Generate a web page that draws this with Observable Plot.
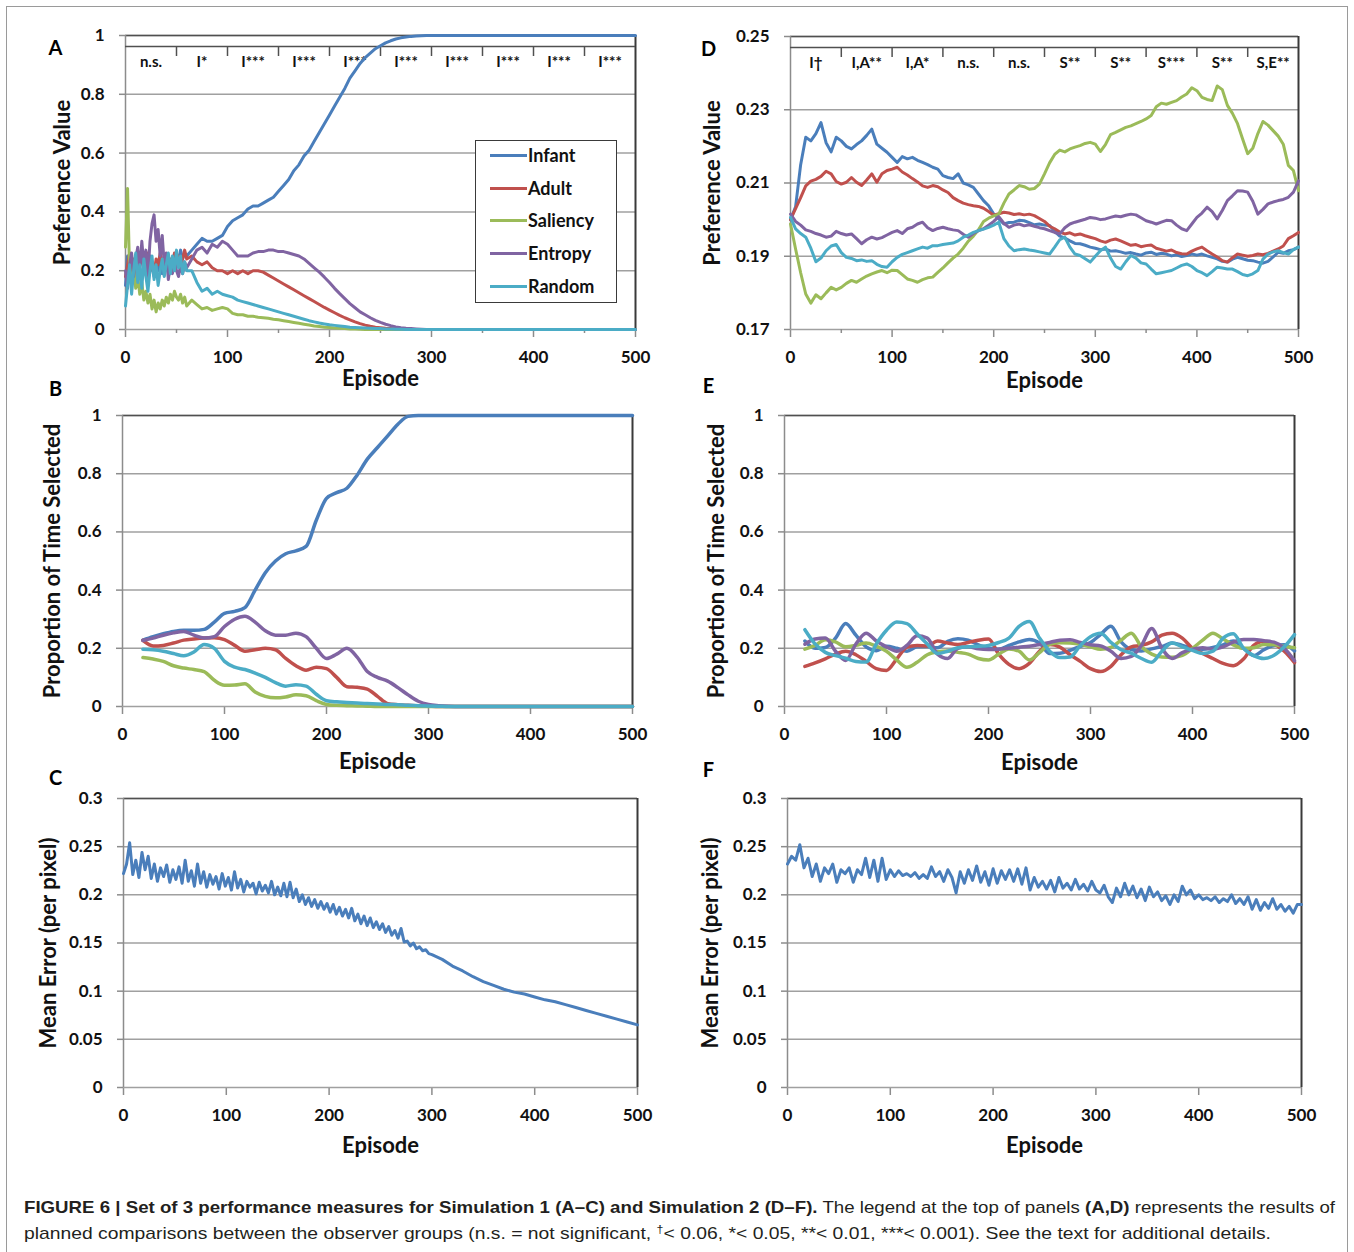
<!DOCTYPE html>
<html><head><meta charset="utf-8">
<script src="https://cdn.jsdelivr.net/npm/d3@7"></script>
<script src="https://cdn.jsdelivr.net/npm/@observablehq/plot@0.6"></script>
<style>
html,body{margin:0;padding:0;background:#fff;}
#fig{position:relative;width:1354px;height:1252px;overflow:hidden;font-family:Lato,"Open Sans",sans-serif;background:#fff;}
.panel{position:absolute;}
.panel svg{overflow:visible;}
g[aria-label="x-axis tick"], g[aria-label="y-axis tick"]{stroke:#8c8c8c;stroke-width:1.5px;}
g[aria-label="x-axis"] line, g[aria-label="y-axis"] line{stroke:#8c8c8c;stroke-width:1.5px;}
#frame{position:absolute;left:6px;top:6px;width:1340px;height:1270px;border:1px solid #9a9a9a;}
.legend{position:absolute;background:#fff;border:1.5px solid #3a3a3a;box-sizing:border-box;}
.legend .sw{position:absolute;height:3px;}
.legend .lb{position:absolute;font-family:Lato,"Open Sans",sans-serif;font-weight:bold;font-size:18px;line-height:20px;color:#111;}
</style></head>
<body>
<div id="fig"><div id="frame"></div></div>
<script>
// ---------- series ----------
const names = ["Infant", "Adult", "Saliency", "Entropy", "Random"];
const colors = ["#4a7ebb", "#c0504d", "#9bbb59", "#8064a2", "#4bacc6"];

// Panel A (Simulation 1, preference value)
const epA = d3.range(0, 61, 2).concat(d3.range(65, 301, 5), [500]);
const aInfant = [0.15,0.25,0.18,0.22,0.2,0.24,0.17,0.22,0.26,0.2,0.23,0.19,0.25,0.21,0.18,0.22,0.2,0.24,0.19,0.23,0.21,0.25,0.2,0.24,0.22,0.26,0.23,0.27,0.24,0.26,0.25,
  0.27,0.29,0.31,0.3,0.3,0.31,0.32,0.35,
  0.37,0.38,0.39,0.41,0.42,0.42,0.43,0.44,
  0.45,0.47,0.49,0.51,0.54,0.56,0.59,0.61,
  0.64,0.67,0.7,0.73,0.76,0.79,0.82,0.855,
  0.88,0.905,0.925,0.94,0.955,0.965,0.975,0.982,
  0.988,0.992,0.995,0.997,0.998,0.999,1,1,
  1];
const aAdult = [0.18,0.22,0.26,0.2,0.24,0.19,0.25,0.22,0.27,0.21,0.24,0.26,0.2,0.23,0.19,0.24,0.22,0.26,0.21,0.25,0.23,0.2,0.24,0.22,0.26,0.23,0.25,0.22,0.24,0.27,0.24,
  0.25,0.23,0.22,0.23,0.21,0.2,0.2,0.19,
  0.2,0.19,0.2,0.19,0.2,0.2,0.195,0.185,
  0.175,0.165,0.155,0.145,0.135,0.125,0.115,0.105,
  0.095,0.085,0.075,0.066,0.057,0.048,0.04,0.033,
  0.026,0.02,0.015,0.011,0.008,0.006,0.004,0.003,
  0.002,0.001,0,0,0,0,0,0,
  0];
const aSaliency = [0.28,0.48,0.2,0.16,0.22,0.14,0.18,0.12,0.16,0.1,0.13,0.09,0.12,0.07,0.1,0.06,0.09,0.07,0.1,0.08,0.11,0.09,0.12,0.1,0.13,0.11,0.1,0.12,0.09,0.11,0.08,
  0.1,0.085,0.07,0.075,0.065,0.07,0.075,0.07,
  0.055,0.05,0.05,0.045,0.045,0.042,0.04,0.038,
  0.035,0.033,0.03,0.027,0.024,0.021,0.018,0.015,
  0.012,0.01,0.008,0.007,0.005,0.004,0.003,0.002,
  0.002,0.001,0,0,0,0,0,0,
  0,0,0,0,0,0,0,0,
  0];
const aEntropy = [0.2,0.14,0.22,0.26,0.18,0.24,0.28,0.2,0.3,0.22,0.27,0.18,0.3,0.36,0.39,0.3,0.34,0.25,0.32,0.22,0.26,0.17,0.22,0.19,0.24,0.2,0.18,0.22,0.19,0.23,0.21,
  0.24,0.27,0.28,0.26,0.29,0.28,0.3,0.29,
  0.27,0.25,0.25,0.25,0.26,0.265,0.265,0.27,
  0.27,0.265,0.265,0.26,0.255,0.25,0.24,0.225,
  0.21,0.195,0.178,0.16,0.14,0.122,0.105,0.088,
  0.074,0.06,0.05,0.04,0.031,0.024,0.018,0.013,
  0.009,0.006,0.004,0.003,0.002,0.001,0,0,
  0];
const aRandom = [0.08,0.15,0.22,0.12,0.2,0.26,0.16,0.22,0.14,0.24,0.18,0.13,0.2,0.25,0.17,0.22,0.15,0.2,0.24,0.18,0.22,0.26,0.19,0.25,0.2,0.27,0.21,0.25,0.19,0.23,0.2,
  0.2,0.16,0.13,0.14,0.12,0.13,0.12,0.115,
  0.11,0.1,0.095,0.09,0.085,0.08,0.075,0.07,
  0.065,0.06,0.055,0.05,0.045,0.04,0.035,0.03,
  0.026,0.022,0.019,0.016,0.014,0.012,0.01,0.008,
  0.007,0.006,0.005,0.004,0.003,0.003,0.002,0.002,
  0.001,0.001,0,0,0,0,0,0,
  0];

// Panel B (Simulation 1, proportion of time selected), episodes 20..500 by 10
const epB = d3.range(20, 501, 10);
const bInfant = [0.228,0.24,0.25,0.258,0.262,0.262,0.265,0.29,0.32,0.327,0.34,0.4,0.46,0.5,0.525,0.535,0.55,0.64,0.715,0.735,0.75,0.795,0.85,0.89,0.93,0.97,0.997,
  1,1,1,1,1,1,1,1,1,1,1,1,1,1,1,1,1,1,1,1,1,1];
const bAdult = [0.227,0.208,0.21,0.218,0.228,0.232,0.235,0.236,0.23,0.21,0.19,0.195,0.2,0.195,0.165,0.14,0.125,0.135,0.13,0.1,0.068,0.066,0.06,0.035,0.01,0.006,0.004,0.002,0.001,
  0,0,0,0,0,0,0,0,0,0,0,0,0,0,0,0,0,0,0,0];
const bSaliency = [0.168,0.163,0.155,0.14,0.132,0.127,0.12,0.09,0.073,0.074,0.078,0.05,0.035,0.03,0.033,0.04,0.037,0.02,0.007,0.004,0.003,0.002,0.001,
  0,0,0,0,0,0,0,0,0,0,0,0,0,0,0,0,0,0,0,0,0,0,0,0,0,0];
const bEntropy = [0.227,0.235,0.245,0.253,0.258,0.245,0.235,0.24,0.275,0.3,0.31,0.29,0.26,0.245,0.245,0.252,0.24,0.2,0.165,0.18,0.2,0.17,0.12,0.1,0.087,0.065,0.04,0.018,0.007,0.003,0.001,
  0,0,0,0,0,0,0,0,0,0,0,0,0,0,0,0,0,0];
const bRandom = [0.197,0.195,0.19,0.182,0.174,0.187,0.213,0.2,0.155,0.135,0.127,0.115,0.1,0.082,0.07,0.075,0.07,0.042,0.02,0.016,0.014,0.012,0.01,0.009,0.007,0.006,0.004,0.003,0.002,0.001,
  0,0,0,0,0,0,0,0,0,0,0,0,0,0,0,0,0,0,0];

// Panel C (Simulation 1, mean error)
const epC = d3.range(0, 301, 3).concat(d3.range(310, 501, 10));
const cError = [0.222,0.232,0.254,0.221,0.236,0.218,0.244,0.226,0.240,0.217,
  0.232,0.214,0.228,0.219,0.231,0.213,0.226,0.216,0.229,0.212,
  0.236,0.214,0.225,0.209,0.232,0.212,0.224,0.208,0.221,0.211,
  0.219,0.206,0.222,0.209,0.218,0.205,0.224,0.207,0.216,0.203,
  0.214,0.208,0.212,0.201,0.213,0.204,0.21,0.202,0.214,0.2,
  0.208,0.199,0.212,0.198,0.213,0.197,0.206,0.193,0.2,0.19,
  0.197,0.188,0.195,0.186,0.193,0.185,0.191,0.182,0.19,0.18,
  0.187,0.178,0.185,0.176,0.186,0.173,0.18,0.17,0.178,0.168,
  0.176,0.166,0.172,0.164,0.17,0.161,0.167,0.158,0.163,0.155,
  0.165,0.151,0.152,0.147,0.15,0.144,0.146,0.142,0.143,0.139,
  0.138,
  0.133,0.126,0.121,0.115,0.11,0.106,0.102,0.099,0.097,0.094,
  0.091,0.089,0.086,0.083,0.08,0.077,0.074,0.071,0.068,0.065];

// Panel D (Simulation 2, preference value), episodes 0..500 by 5
const epD = d3.range(0, 501, 5);
const dInfant = [0.2,0.2035,0.215,0.2225,0.2215,0.2235,0.2265,0.221,0.2185,0.2225,
  0.2215,0.22,0.2193,0.2205,0.2215,0.223,0.2247,0.2206,0.2195,0.2184,
  0.217,0.2156,0.2172,0.2166,0.217,0.2162,0.2156,0.215,0.2143,0.2138,
  0.212,0.2115,0.2112,0.2125,0.21,0.2095,0.2088,0.207,0.2052,0.2038,
  0.2015,0.2002,0.1988,0.1992,0.1993,0.1998,0.1997,0.1992,0.1986,0.1988,
  0.1985,0.1984,0.1968,0.1955,0.195,0.1942,0.1935,0.1934,0.193,0.1925,
  0.1922,0.1918,0.192,0.1914,0.1915,0.1912,0.1908,0.191,0.1906,0.1903,
  0.1909,0.1911,0.1905,0.1908,0.1906,0.1901,0.1904,0.1899,0.1902,0.1906,
  0.1903,0.1906,0.1901,0.1897,0.1893,0.1886,0.1884,0.1892,0.1897,0.1893,
  0.1889,0.1888,0.1884,0.1881,0.1886,0.1898,0.1911,0.1908,0.1915,0.1918,
  0.1925];
const dAdult = [0.2,0.203,0.206,0.2092,0.2105,0.211,0.2118,0.2132,0.2125,0.2104,
  0.2097,0.2102,0.2115,0.2102,0.2093,0.2108,0.2125,0.2102,0.2125,0.2134,
  0.2138,0.2143,0.213,0.2122,0.2112,0.2103,0.2092,0.2088,0.2093,0.209,
  0.2081,0.2074,0.206,0.2052,0.2045,0.2041,0.2038,0.2036,0.2031,0.2022,
  0.2012,0.2016,0.202,0.2018,0.2014,0.2016,0.2013,0.2015,0.2011,0.2003,
  0.1995,0.1982,0.1975,0.1966,0.1961,0.1964,0.1958,0.1961,0.1956,0.1952,
  0.1948,0.1942,0.1938,0.1944,0.1947,0.1942,0.1936,0.193,0.1932,0.1926,
  0.1929,0.1931,0.1922,0.1918,0.1914,0.1917,0.191,0.1907,0.1906,0.1914,
  0.192,0.1925,0.1915,0.1906,0.1898,0.1888,0.1884,0.1896,0.1906,0.1903,
  0.19,0.1902,0.1906,0.1904,0.1908,0.1914,0.192,0.1928,0.1948,0.1956,
  0.1965];
const dSaliency = [0.1988,0.192,0.1855,0.1797,0.1772,0.1795,0.1784,0.18,0.1815,0.1808,
  0.1815,0.1826,0.1834,0.1829,0.1838,0.1846,0.1852,0.1857,0.1861,0.1855,
  0.1862,0.1861,0.185,0.1838,0.1834,0.1829,0.1836,0.1841,0.1843,0.1856,
  0.1868,0.1882,0.1895,0.1906,0.1922,0.1941,0.1955,0.1972,0.1995,0.2004,
  0.201,0.2015,0.2045,0.207,0.2081,0.2093,0.209,0.2083,0.2085,0.2097,
  0.2125,0.2155,0.2178,0.219,0.2185,0.2193,0.2198,0.2202,0.2208,0.2211,
  0.2206,0.2186,0.2205,0.2232,0.2238,0.2245,0.2252,0.2256,0.2262,0.2268,
  0.2275,0.2284,0.2308,0.2318,0.2315,0.232,0.2325,0.2335,0.2343,0.236,
  0.2352,0.2334,0.2328,0.2325,0.2365,0.2355,0.2312,0.229,0.2262,0.222,
  0.218,0.2195,0.2235,0.2268,0.2258,0.2243,0.2228,0.2206,0.2148,0.2134,
  0.2079];
const dEntropy = [0.2015,0.1995,0.1985,0.1972,0.1968,0.1962,0.1958,0.1952,0.1955,0.1968,
  0.1962,0.1958,0.1961,0.1948,0.1934,0.1945,0.1952,0.1947,0.1951,0.1958,
  0.1965,0.197,0.1962,0.1975,0.1979,0.1988,0.1993,0.1978,0.197,0.1976,
  0.1979,0.1975,0.1972,0.197,0.196,0.1952,0.1962,0.197,0.1975,0.1985,
  0.1995,0.2008,0.199,0.1979,0.1985,0.1988,0.1983,0.1986,0.1982,0.1978,
  0.1975,0.197,0.1965,0.1961,0.1978,0.1988,0.1993,0.1997,0.2001,0.2006,
  0.2004,0.2,0.2002,0.2006,0.201,0.2008,0.2012,0.2015,0.2013,0.2005,
  0.1997,0.1993,0.1988,0.1993,0.1998,0.1997,0.1985,0.1975,0.197,0.1988,
  0.2006,0.2018,0.2034,0.2022,0.2002,0.2025,0.2052,0.2065,0.2079,0.2078,
  0.2075,0.205,0.2015,0.2028,0.2043,0.2048,0.2052,0.2055,0.2061,0.2075,
  0.2106];
const dRandom = [0.2006,0.1975,0.1962,0.1952,0.1922,0.1885,0.1895,0.1915,0.1928,0.1932,
  0.191,0.1897,0.1894,0.1888,0.189,0.1886,0.1888,0.1878,0.1872,0.187,
  0.1885,0.1897,0.1905,0.191,0.1915,0.192,0.1925,0.1922,0.1929,0.1929,
  0.1932,0.1934,0.1936,0.1942,0.1952,0.1958,0.1965,0.197,0.1974,0.1979,
  0.1985,0.1993,0.1948,0.1928,0.1915,0.1918,0.192,0.1917,0.1915,0.1912,
  0.1909,0.1906,0.1925,0.1945,0.1952,0.1925,0.1906,0.1902,0.1893,0.1884,
  0.19,0.1915,0.1925,0.1895,0.1872,0.1865,0.1885,0.1902,0.1895,0.1882,
  0.1879,0.1865,0.1852,0.1855,0.1858,0.1861,0.1868,0.1875,0.1879,0.1872,
  0.1861,0.1855,0.1847,0.1858,0.187,0.1868,0.1865,0.1865,0.1858,0.185,
  0.1847,0.1852,0.1861,0.1892,0.1906,0.1912,0.1915,0.191,0.1906,0.1918,
  0.1925];

// Panel E (Simulation 2, proportion of time selected), episodes 20..500 by 10
const epE = d3.range(20, 501, 10);
const eInfant = [0.225,0.2,0.203,0.235,0.285,0.245,0.205,0.192,0.207,0.2,0.19,0.205,0.206,0.202,0.224,0.233,0.228,0.212,0.2,0.197,0.21,0.222,0.23,0.218,0.182,0.183,0.193,0.207,0.22,0.248,0.276,0.222,0.196,0.191,0.198,0.206,0.218,0.21,0.2,0.197,0.203,0.212,0.225,0.2,0.175,0.195,0.21,0.212,0.191];
const eAdult = [0.138,0.15,0.164,0.18,0.19,0.178,0.155,0.13,0.124,0.163,0.204,0.21,0.208,0.225,0.218,0.213,0.22,0.228,0.232,0.18,0.145,0.13,0.148,0.19,0.213,0.204,0.178,0.155,0.13,0.12,0.138,0.178,0.205,0.21,0.222,0.245,0.252,0.235,0.2,0.182,0.165,0.148,0.14,0.163,0.21,0.224,0.215,0.19,0.151];
const eSaliency = [0.197,0.21,0.229,0.222,0.205,0.21,0.218,0.207,0.19,0.16,0.135,0.152,0.178,0.188,0.191,0.186,0.18,0.165,0.16,0.18,0.198,0.19,0.16,0.185,0.214,0.219,0.218,0.214,0.205,0.197,0.203,0.228,0.252,0.205,0.18,0.17,0.169,0.176,0.2,0.228,0.252,0.232,0.212,0.2,0.202,0.213,0.212,0.206,0.202];
const eEntropy = [0.214,0.232,0.235,0.19,0.158,0.215,0.252,0.225,0.205,0.19,0.21,0.243,0.235,0.18,0.165,0.2,0.205,0.198,0.196,0.197,0.2,0.204,0.207,0.213,0.22,0.228,0.229,0.22,0.212,0.208,0.19,0.165,0.172,0.21,0.268,0.2,0.165,0.185,0.197,0.202,0.197,0.205,0.221,0.23,0.23,0.226,0.221,0.2,0.157];
const eRandom = [0.264,0.215,0.186,0.175,0.166,0.155,0.153,0.215,0.262,0.29,0.285,0.25,0.215,0.182,0.19,0.202,0.205,0.207,0.21,0.22,0.235,0.275,0.292,0.235,0.19,0.168,0.17,0.21,0.24,0.252,0.22,0.195,0.183,0.165,0.152,0.19,0.218,0.205,0.193,0.182,0.19,0.235,0.25,0.2,0.175,0.165,0.176,0.205,0.247];

// Panel F (Simulation 2, mean error), episodes 0..500 by 4
const epF = d3.range(0, 501, 4);
const fError = [0.232,0.24,0.236,0.252,0.228,0.238,0.219,0.232,0.214,0.228,
  0.222,0.232,0.213,0.226,0.222,0.228,0.213,0.226,0.221,0.238,
  0.218,0.236,0.214,0.238,0.216,0.226,0.219,0.225,0.22,0.222,
  0.219,0.223,0.217,0.221,0.217,0.229,0.219,0.224,0.214,0.226,
  0.218,0.202,0.224,0.212,0.226,0.215,0.23,0.213,0.224,0.21,
  0.227,0.212,0.225,0.216,0.226,0.214,0.227,0.211,0.228,0.205,
  0.218,0.208,0.214,0.206,0.215,0.203,0.218,0.207,0.212,0.205,
  0.216,0.206,0.211,0.204,0.214,0.205,0.202,0.21,0.198,0.192,
  0.207,0.198,0.212,0.2,0.209,0.197,0.206,0.194,0.208,0.198,
  0.203,0.194,0.199,0.19,0.2,0.193,0.209,0.2,0.205,0.196,
  0.2,0.195,0.197,0.194,0.198,0.192,0.196,0.193,0.2,0.191,
  0.196,0.19,0.198,0.185,0.195,0.184,0.192,0.186,0.196,0.185,
  0.19,0.183,0.188,0.181,0.19,0.19];

// ticks and annotation labels
const xTicks = [0, 100, 200, 300, 400, 500];
const xMinor = [50, 150, 250, 350, 450];
const propTicks = [0, 0.2, 0.4, 0.6, 0.8, 1];
const prefTicksD = [0.17, 0.19, 0.21, 0.23, 0.25];
const errTicks = [0, 0.05, 0.1, 0.15, 0.2, 0.25, 0.3];
const bandSep = [50, 100, 150, 200, 250, 300, 350, 400, 450];
const bandMid = [25, 75, 125, 175, 225, 275, 325, 375, 425, 475];
const bandA = ["n.s.", "I*", "I***", "I***", "I***", "I***", "I***", "I***", "I***", "I***"];
const bandD = ["I†", "I,A**", "I,A*", "n.s.", "n.s.", "S**", "S**", "S***", "S**", "S,E**"];

// ---------- drawing ----------
const fig = document.getElementById("fig");
const rows = (xs, ys) => ys.map((v, i) => ({x: xs[i], y: v}));

function makePanel(p) {
  const mL = p.x0 - p.left, mR = p.left + p.width - p.x1;
  const mT = p.yTop - p.top, mB = p.top + p.height - p.yBot;
  const [yMin, yMax] = p.yDomain;
  const du = (yMax - yMin) / (p.yBot - p.yTop);
  const marks = [
    Plot.ruleY(p.yTicks, {stroke: "#a0a0a0", strokeWidth: 1.5}),
    Plot.ruleY([yMax], {stroke: "#505050", strokeWidth: 1.5}),
    Plot.ruleX([0], {stroke: "#8c8c8c", strokeWidth: 1.5}),
    Plot.ruleX([500], {stroke: "#3a3a3a", strokeWidth: 2})
  ];
  if (p.minor) marks.push(Plot.ruleX(p.minor, {y1: yMin, y2: yMin - 4 * du, stroke: "#8c8c8c", strokeWidth: 1.5}));
  if (p.band) {
    marks.push(Plot.ruleY([yMax], {dy: 11, stroke: "#505050", strokeWidth: 1.5}));
    marks.push(Plot.ruleX(bandSep, {y1: yMax - 11 * du, y2: yMax - 21 * du, stroke: "#505050", strokeWidth: 1.5}));
    marks.push(Plot.text(p.band, {x: (d, i) => bandMid[i], y: () => yMax, dy: 27, text: d => d,
      fontSize: 15, fontWeight: "bold", lineAnchor: "middle", textAnchor: "middle", fill: "#111", ariaLabel: "band-label"}));
  }
  p.series.forEach((s, i) => {
    marks.push(Plot.line(rows(p.ep, s), {x: "x", y: "y", stroke: colors[i], strokeWidth: p.sw, curve: p.curve || "linear"}));
  });
  if (p.single) {
    marks.push(Plot.line(rows(p.ep, p.single), {x: "x", y: "y", stroke: colors[0], strokeWidth: p.sw}));
  }
  marks.push(Plot.text(["Episode"], {frameAnchor: "bottom", dy: p.xTitleDy, text: d => d, fontSize: 22, fontWeight: "bold", lineAnchor: "middle", textAnchor: "middle", fill: "#111"}));
  marks.push(Plot.text([p.yTitle], {frameAnchor: "left", dx: p.yTitleDx, rotate: -90, text: d => d, fontSize: 22, fontWeight: "bold", lineAnchor: "middle", textAnchor: "middle", fill: "#111", ariaLabel: "y-title"}));
  marks.push(Plot.text([p.letter], {frameAnchor: "top-left", dx: p.letterDx, dy: p.letterDy, text: d => d, fontSize: 20, fontWeight: "bold", lineAnchor: "middle", textAnchor: "middle", fill: "#000"}));

  const chart = Plot.plot({
    width: p.width, height: p.height,
    marginLeft: mL, marginRight: mR, marginTop: mT, marginBottom: mB,
    x: {domain: [0, 500], ticks: xTicks, tickSize: 8, tickPadding: 13, tickFormat: d => String(d), label: null},
    y: {domain: p.yDomain, ticks: p.yTicks, tickSize: 6, tickPadding: 15, tickFormat: d => String(d), label: null},
    style: {background: "transparent", overflow: "visible", fontFamily: "Lato, 'Open Sans', sans-serif", fontSize: "17px", fontWeight: "bold", color: "#111"},
    marks
  });
  chart.querySelectorAll('g[aria-label="band-label"] text').forEach(t => {
    const m = t.textContent.match(/^(.*?)([*†]+)$/);
    if (!m) return;
    t.textContent = m[1];
    const ts = document.createElementNS("http://www.w3.org/2000/svg", "tspan");
    ts.setAttribute("font-size", m[2] === "†" ? "11" : "12");
    ts.textContent = m[2];
    t.appendChild(ts);
  });
  chart.querySelectorAll('g[aria-label="y-title"] text').forEach(t => {
    t.setAttribute("textLength", p.yTitleLen);
    t.setAttribute("lengthAdjust", "spacingAndGlyphs");
  });
  const div = document.createElement("div");
  div.className = "panel";
  div.style.left = p.left + "px";
  div.style.top = p.top + "px";
  div.appendChild(chart);
  fig.appendChild(div);
}

makePanel({left: 0, top: 0, width: 677, height: 395, x0: 125, x1: 635, yTop: 35, yBot: 329,
  yDomain: [0, 1], yTicks: propTicks, minor: xMinor, band: bandA, ep: epA,
  series: [aInfant, aAdult, aSaliency, aEntropy, aRandom], sw: 3,
  letter: "A", letterDx: -70, letterDy: 13, yTitle: "Preference Value", yTitleDx: -63, yTitleLen: 200, xTitleDy: 49});
makePanel({left: 0, top: 372, width: 677, height: 403, x0: 122, x1: 632, yTop: 415, yBot: 706,
  yDomain: [0, 1], yTicks: propTicks, ep: epB, curve: "monotone-x",
  series: [bInfant, bAdult, bSaliency, bEntropy, bRandom], sw: 3.5,
  letter: "B", letterDx: -67, letterDy: -26, yTitle: "Proportion of Time Selected", yTitleDx: -70, yTitleLen: 294, xTitleDy: 55});
makePanel({left: 0, top: 758, width: 677, height: 412, x0: 123, x1: 637, yTop: 798, yBot: 1087,
  yDomain: [0, 0.3], yTicks: errTicks, ep: epC, series: [], single: cError, sw: 3,
  letter: "C", letterDx: -68, letterDy: -20, yTitle: "Mean Error (per pixel)", yTitleDx: -75, yTitleLen: 230, xTitleDy: 58});
makePanel({left: 677, top: 0, width: 677, height: 395, x0: 790, x1: 1298, yTop: 36, yBot: 329,
  yDomain: [0.17, 0.25], yTicks: prefTicksD, minor: xMinor, band: bandD, ep: epD,
  series: [dInfant, dAdult, dSaliency, dEntropy, dRandom], sw: 3,
  letter: "D", letterDx: -82, letterDy: 13, yTitle: "Preference Value", yTitleDx: -78, yTitleLen: 202, xTitleDy: 51});
makePanel({left: 677, top: 372, width: 677, height: 403, x0: 784, x1: 1294, yTop: 415, yBot: 706,
  yDomain: [0, 1], yTicks: propTicks, ep: epE, curve: "monotone-x",
  series: [eInfant, eAdult, eSaliency, eEntropy, eRandom], sw: 3.5,
  letter: "E", letterDx: -76, letterDy: -29, yTitle: "Proportion of Time Selected", yTitleDx: -68, yTitleLen: 294, xTitleDy: 56});
makePanel({left: 677, top: 758, width: 677, height: 412, x0: 787, x1: 1301, yTop: 798, yBot: 1087,
  yDomain: [0, 0.3], yTicks: errTicks, ep: epF, series: [], single: fError, sw: 3,
  letter: "F", letterDx: -79, letterDy: -28, yTitle: "Mean Error (per pixel)", yTitleDx: -77, yTitleLen: 230, xTitleDy: 58});

// legend (panel A)
const leg = document.createElement("div");
leg.className = "legend";
Object.assign(leg.style, {left: "475px", top: "140px", width: "142px", height: "163px"});
const rowY = [15, 48, 80, 113, 146];
names.forEach((n, i) => {
  const sw = document.createElement("div");
  sw.className = "sw";
  Object.assign(sw.style, {left: "14px", width: "37px", top: (rowY[i] - 2) + "px", background: colors[i]});
  const lb = document.createElement("div");
  lb.className = "lb";
  Object.assign(lb.style, {left: "52px", top: (rowY[i] - 11) + "px"});
  lb.textContent = n;
  leg.appendChild(sw);
  leg.appendChild(lb);
});
fig.appendChild(leg);

// caption
const cap = document.createElement("div");
Object.assign(cap.style, {position: "absolute", left: "0px", top: "1185px"});
cap.innerHTML = `<svg width="1354" height="70" font-family="'Liberation Sans Narrow','Liberation Sans',Arial,sans-serif" font-size="17" fill="#231f20">
<text x="24" y="28" textLength="1311" lengthAdjust="spacingAndGlyphs"><tspan font-weight="bold">FIGURE 6 | Set of 3 performance measures for Simulation 1 (A–C) and Simulation 2 (D–F).</tspan> The legend at the top of panels <tspan font-weight="bold">(A,D)</tspan> represents the results of</text>
<text x="24" y="54" textLength="1247" lengthAdjust="spacingAndGlyphs">planned comparisons between the observer groups (n.s. = not significant, <tspan font-size="11" dy="-6">†</tspan><tspan dy="6">&lt; 0.06, *&lt; 0.05, **&lt; 0.01, ***&lt; 0.001). See the text for additional details.</tspan></text>
</svg>`;
fig.appendChild(cap);
</script>
</body></html>
